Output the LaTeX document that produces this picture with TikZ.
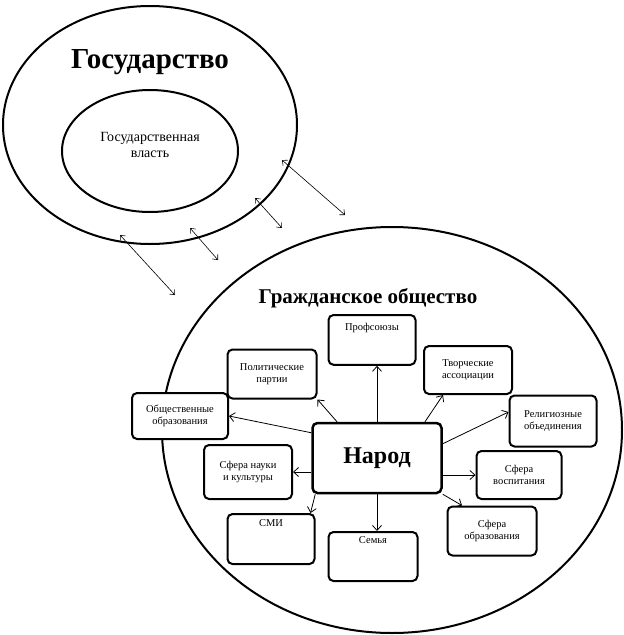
\documentclass[tikz,border=0pt]{standalone}
\usepackage{fontspec}
\setmainfont{Liberation Serif}
\usetikzlibrary{shapes.geometric,arrows.meta}

\begin{document}
\begin{tikzpicture}
  [x=1pt,y=-1pt,
   box/.style={draw,fill=white,line width=2pt,rounded corners=5pt,align=center,font=\fontsize{10.5}{12.5}\selectfont},
   link/.style={-{Straight Barb[length=5pt,width=9pt]},line width=0.8pt},
   both/.style={{Straight Barb[length=4pt,width=7pt]}-{Straight Barb[length=4pt,width=7pt]},line width=0.6pt}]

  \useasboundingbox (0,0) rectangle (624,635);
  \node[draw,ellipse,line width=2pt,minimum width=294,minimum height=238] (gos) at (150,125) {};
  \node[draw,ellipse,line width=2pt,minimum width=176,minimum height=122] (vlast) at (150,151) {};
  \node (gost) at (150,62) {\fontsize{29}{33}\selectfont\bfseries Государство};
  \node[align=center,font=\fontsize{14}{16}\selectfont] (vlastt) at (150,145) {Государственная\\власть};
  \node[draw,ellipse,line width=2pt,minimum width=460,minimum height=406] (grazh) at (392,430) {};
  \node (grazht) at (368,298) {\fontsize{21}{25}\selectfont\bfseries Гражданское общество};

  \node[box,minimum width=129,minimum height=70,line width=2.5pt] (narod) at (377,458) {\fontsize{24}{28}\selectfont\bfseries Народ};
  \node[box,minimum width=87,minimum height=49,anchor=north,inner sep=8pt] (n1) at (372,314) {Профсоюзы\\[14pt]};
  \node[box,minimum width=89,minimum height=49] (n2) at (272,374) {Политические\\партии};
  \node[box,minimum width=88,minimum height=48] (n3) at (468,370) {Творческие\\ассоциации};
  \node[box,minimum width=96,minimum height=46] (n4) at (180,416) {Общественные\\образования};
  \node[box,minimum width=87,minimum height=51] (n5) at (553,421) {Религиозные\\объединения};
  \node[box,minimum width=88,minimum height=54] (n6) at (248,472) {Сфера науки\\и культуры};
  \node[box,minimum width=85,minimum height=48] (n7) at (519,475) {Сфера\\воспитания};
  \node[box,minimum width=87,minimum height=50,anchor=north] (n8) at (271,513) {СМИ\\[20pt]};
  \node[box,minimum width=89,minimum height=49,anchor=north] (n9) at (373,531) {Семья\\[20pt]};
  \node[box,minimum width=89,minimum height=49] (n10) at (492,531) {Сфера\\образования};

  \coordinate (a1) at (120,235); \coordinate (b1) at (175,295);
  \coordinate (a2) at (190,228); \coordinate (b2) at (218,260);
  \coordinate (a3) at (255,198); \coordinate (b3) at (282,228);
  \coordinate (a4) at (282,160); \coordinate (b4) at (345,215);
  \foreach \from/\to in {a1/b1,a2/b2,a3/b3,a4/b4}
    \draw[both] (\from) -- (\to);

  \draw[link] (narod.north) -- (n1.south -| narod.north);
  \draw[link] ([xshift=-40]narod.north) -- (n2.south east);
  \draw[link] ([xshift=48]narod.north) -- ([xshift=-25]n3.south);
  \draw[link] ([yshift=-11]narod.north west) -- (n4.east);
  \draw[link] ([yshift=-22]narod.north east) -- ([yshift=9]n5.west);
  \draw[link] (narod.west |- n6.east) -- (n6.east);
  \draw[link] (narod.east |- n7.west) -- (n7.west);
  \draw[link] ([xshift=4]narod.south west) -- ([xshift=-5]n8.north east);
  \draw[link] (narod.south) -- (n9.north -| narod.south);
  \draw[link] (narod.south east) -- ([xshift=-30]n10.north);
\end{tikzpicture}
\end{document}
